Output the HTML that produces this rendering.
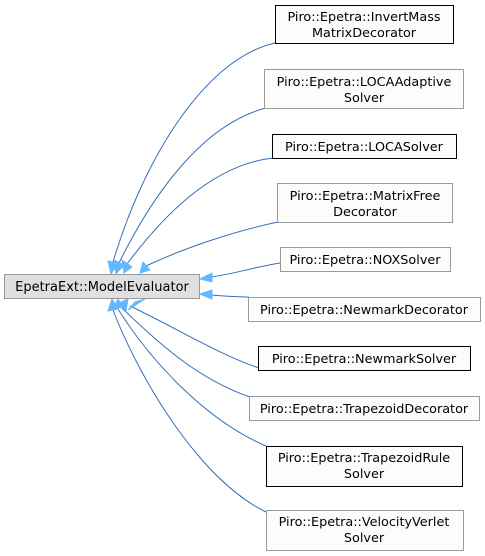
<!DOCTYPE html>
<html><head><style>
html,body{margin:0;padding:0;background:#fff;}
svg{display:block}
text{font-family:"DejaVu Sans","Liberation Sans",sans-serif;font-size:12.8px;fill:#000;text-anchor:middle}
</style></head><body>
<svg width="485" height="556" viewBox="0 0 485 556" xmlns="http://www.w3.org/2000/svg">
<g fill="none" stroke="#3570b8" stroke-width="1">
<path d="M275,43 C200,60 140,170 113,262"/>
<path d="M266,108 C200,125 150,200 119,263"/>
<path d="M273,158 C210,165 160,220 127,264"/>
<path d="M278,222 C230,232 180,250 146,266"/>
<path d="M280,263 C250,268 230,275 210,277"/>
<path d="M249,297 C235,297 225,296 210,295"/>
<path d="M259,368 C220,355 180,330 130,306"/>
<path d="M250,397 C200,380 160,345 122,308"/>
<path d="M266,446 C205,420 150,360 118,309"/>
<path d="M266,512 C200,480 140,380 113,310"/>
</g>
<g fill="#63b8ff" stroke="#63b8ff" stroke-width="1">
<polygon points="111,274 108,261 118,263"/>
<polygon points="116,274 114,260 124,265"/>
<polygon points="124,273 122,260 132,267"/>
<polygon points="140,273 143,262 150,270"/>
<polygon points="200,279 212,273 212,282"/>
<polygon points="200,294 212,290 212,299"/>
<polygon points="145,299 135,302 128,310"/>
<polygon points="128,299 119,303 126,311"/>
<polygon points="118,299 113,309 123,307"/>
<polygon points="112,299 108,311 118,309"/>
</g>
<rect x="4.5" y="274.5" width="195" height="24" fill="#e0e0e0" stroke="#999"/>
<text x="102" y="291" style="font-size:13px">EpetraExt::ModelEvaluator</text>
<g fill="#fcfdfa">
<rect x="275.5" y="5.5" width="178" height="38" stroke="#000"/>
<rect x="264.5" y="69.5" width="199" height="39" stroke="#999"/>
<rect x="272.5" y="134.5" width="184" height="24" stroke="#000"/>
<rect x="277.5" y="183.5" width="175" height="39" stroke="#999"/>
<rect x="280.5" y="247.5" width="170" height="24" stroke="#999"/>
<rect x="248.5" y="297.5" width="232" height="24" stroke="#999"/>
<rect x="258.5" y="346.5" width="212" height="24" stroke="#000"/>
<rect x="249.5" y="396.5" width="230" height="24" stroke="#999"/>
<rect x="266.5" y="446.5" width="196" height="40" stroke="#000"/>
<rect x="266.5" y="510.5" width="197" height="40" stroke="#999"/>
</g>
<text x="364" y="21">Piro::Epetra::InvertMass</text>
<text x="364" y="37">MatrixDecorator</text>
<text x="364" y="86">Piro::Epetra::LOCAAdaptive</text>
<text x="364" y="102">Solver</text>
<text x="364" y="151">Piro::Epetra::LOCASolver</text>
<text x="365" y="200">Piro::Epetra::MatrixFree</text>
<text x="365" y="216">Decorator</text>
<text x="365" y="264">Piro::Epetra::NOXSolver</text>
<text x="364" y="314">Piro::Epetra::NewmarkDecorator</text>
<text x="364" y="363">Piro::Epetra::NewmarkSolver</text>
<text x="364" y="413">Piro::Epetra::TrapezoidDecorator</text>
<text x="364" y="462">Piro::Epetra::TrapezoidRule</text>
<text x="364" y="478">Solver</text>
<text x="364" y="526">Piro::Epetra::VelocityVerlet</text>
<text x="364" y="542">Solver</text>
</svg>
</body></html>
